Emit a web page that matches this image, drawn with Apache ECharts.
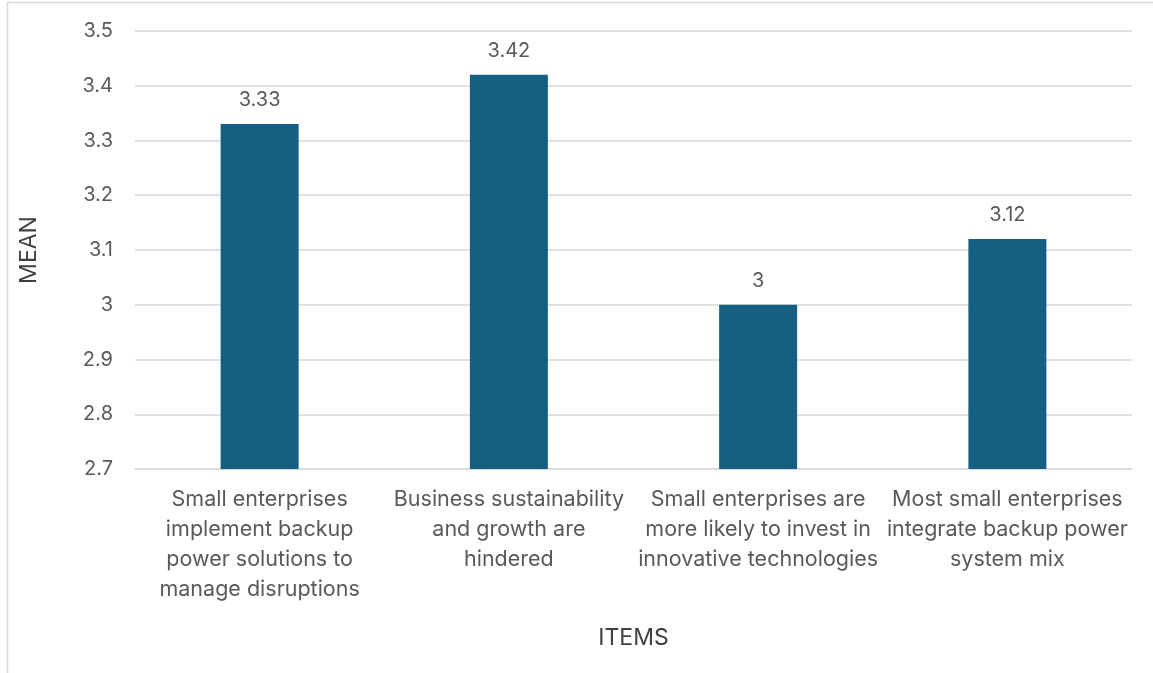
<!DOCTYPE html>
<html>
<head>
<meta charset="utf-8">
<script src="https://cdn.jsdelivr.net/npm/echarts@6/dist/echarts.min.js"></script>
<style>
  html, body { margin: 0; padding: 0; background: #fff; }
  #main { width: 1153px; height: 673px; }
</style>
</head>
<body>
<div id="main"></div>
<script>
// categories and means
var items = [
    'Small enterprises\nimplement backup\npower solutions to\nmanage disruptions',
    'Business sustainability\nand growth are\nhindered',
    'Small enterprises are\nmore likely to invest in\ninnovative technologies',
    'Most small enterprises\nintegrate backup power\nsystem mix'
];
var means = [3.33, 3.42, 3, 3.12];

var textColor = '#595959';
var titleColor = '#404040';
var font = 'Inter';

var myChart = echarts.init(document.getElementById('main'));

var option = {
    backgroundColor: '#fff',
    animation: false,
    graphic: [{
        type: 'rect',
        shape: { x: 7.5, y: 2.5, width: 1160, height: 680 },
        style: { fill: 'none', stroke: '#d9d9d9', lineWidth: 1.5 }
    }],
    grid: {
        left: 135,
        right: 21,
        top: 31,
        bottom: 204
    },
    xAxis: {
        type: 'category',
        data: items,
        name: 'ITEMS',
        nameLocation: 'middle',
        nameGap: 158,
        nameTextStyle: { color: titleColor, fontSize: 23, fontFamily: font },
        axisLine: { lineStyle: { color: '#d9d9d9', width: 1.5 } },
        axisTick: { show: false },
        axisLabel: {
            color: textColor,
            fontSize: 21.5,
            fontFamily: font,
            lineHeight: 30,
            margin: 16,
            interval: 0
        }
    },
    yAxis: {
        type: 'value',
        min: 2.7,
        max: 3.5,
        interval: 0.1,
        name: 'MEAN',
        nameLocation: 'middle',
        nameGap: 94,
        nameRotate: 90,
        nameTextStyle: { color: titleColor, fontSize: 23, fontFamily: font },
        axisLine: { show: false },
        axisTick: { show: false },
        splitLine: { lineStyle: { color: '#d9d9d9', width: 1.5 } },
        axisLabel: {
            color: textColor,
            fontSize: 20,
            fontFamily: font,
            margin: 22,
            formatter: function (v) { return String(Math.round(v * 10) / 10); }
        }
    },
    series: [{
        type: 'bar',
        data: means,
        barWidth: 78,
        itemStyle: { color: '#156082' },
        label: {
            show: true,
            position: 'top',
            distance: 14,
            color: textColor,
            fontSize: 20,
            fontFamily: font
        }
    }]
};

myChart.setOption(option);
</script>
</body>
</html>
